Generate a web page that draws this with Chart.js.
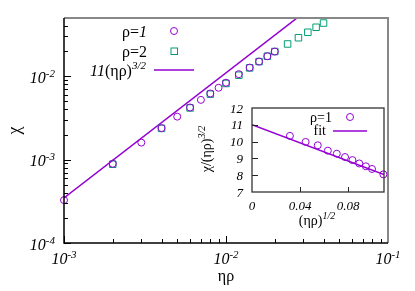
<!DOCTYPE html>
<html>
<head>
<meta charset="utf-8">
<script src="https://cdn.jsdelivr.net/npm/chart.js@4.4.1/dist/chart.umd.min.js"></script>
<style>
html, body { margin: 0; padding: 0; background: #fff; }
#wrap { position: relative; width: 415px; height: 291px; }
#main { position: absolute; left: 0; top: 0; }
#inset { position: absolute; left: 195px; top: 98px; }
</style>
</head>
<body>
<div id="wrap">
  <canvas id="main" width="415" height="291"></canvas>
  <canvas id="inset" width="200" height="135"></canvas>
</div>
<script>
// dados do gráfico principal (log-log)
const rho1X = [0.001, 0.002, 0.003, 0.004, 0.005, 0.006, 0.007, 0.008, 0.009, 0.010, 0.012, 0.014, 0.016, 0.018, 0.020];
const rho1Chi = [3.27e-4, 8.93e-4, 1.60e-3, 2.39e-3, 3.28e-3, 4.22e-3, 5.21e-3, 6.22e-3, 7.28e-3, 8.37e-3, 1.06e-2, 1.27e-2, 1.50e-2, 1.74e-2, 1.98e-2];
const rho2X = [0.002, 0.004, 0.006, 0.008, 0.010, 0.012, 0.014, 0.016, 0.018, 0.020, 0.024, 0.028, 0.032, 0.036, 0.040];
const rho2Chi = [8.8e-4, 2.37e-3, 4.17e-3, 6.1e-3, 8.2e-3, 1.03e-2, 1.26e-2, 1.50e-2, 1.74e-2, 1.98e-2, 2.44e-2, 2.90e-2, 3.37e-2, 3.87e-2, 4.35e-2];
const powerLawX = [0.001, 0.1];   // 11 (ηρ)^{3/2}

// ticks
const xMajor = [0.001, 0.01, 0.1];
const xExp = ['-3', '-2', '-1'];
const yMajor = [1e-4, 1e-3, 1e-2];
const yExp = ['-4', '-3', '-2'];

// dados do inset
const insetX = [0.0316, 0.0447, 0.0548, 0.0632, 0.0707, 0.0775, 0.0837, 0.0894, 0.0949, 0.1000, 0.1095];
const insetY = [10.34, 9.98, 9.78, 9.46, 9.28, 9.08, 8.90, 8.70, 8.53, 8.37, 8.05];
const fitX = [0, 0.11];
const fitA = 11.0, fitB = -26.9;
const insetXTicks = [0, 0.04, 0.08];
const insetXLabels = ['0', '0.04', '0.08'];
const insetYTicks = [7, 8, 9, 10, 11, 12];

const purple = '#9400d3';
const teal = '#009e73';
const serif = '"Liberation Serif", "DejaVu Serif", serif';

function isPow10(v) {
    const l = Math.log10(v);
    return Math.abs(l - Math.round(l)) < 1e-9;
}

function logTicks(min, max) {
    const out = [];
    for (let e = Math.floor(Math.log10(min)); e <= Math.ceil(Math.log10(max)); e++) {
        for (let m = 1; m <= 9; m++) {
            const v = m * Math.pow(10, e);
            if (v >= min * 0.9999 && v <= max * 1.0001) out.push(v);
        }
    }
    return out;
}

// desenha texto com pedaços de fontes diferentes (sobrescrito etc.)
function drawRuns(ctx, runs, x, y, align) {
    let total = 0;
    runs.forEach(r => { ctx.font = r.f; r.w = ctx.measureText(r.t).width; total += r.w; });
    let cx = align === 'right' ? x - total : align === 'center' ? x - total / 2 : x;
    ctx.textAlign = 'left';
    ctx.textBaseline = 'alphabetic';
    runs.forEach(r => { ctx.font = r.f; ctx.fillText(r.t, cx, y + (r.dy || 0)); cx += r.w; });
}

function powLabel(ctx, x, y, exp, align, size) {
    drawRuns(ctx, [
        { t: '10', f: `italic ${size}px ${serif}` },
        { t: exp, f: `italic ${Math.round(size * 0.68)}px ${serif}`, dy: -Math.round(size * 0.4) }
    ], x, y, align);
}

const mainDecor = {
    id: 'mainDecor',
    afterDraw(chart) {
        const { ctx, chartArea: a, scales: { x, y } } = chart;
        ctx.save();
        ctx.strokeStyle = '#000';
        ctx.lineWidth = 1;
        ctx.beginPath();
        x.ticks.forEach(t => {
            const p = Math.round(x.getPixelForValue(t.value)) + 0.5;
            const len = isPow10(t.value) ? 7 : 4;
            ctx.moveTo(p, a.bottom);
            ctx.lineTo(p, a.bottom - len);
        });
        y.ticks.forEach(t => {
            const p = Math.round(y.getPixelForValue(t.value)) + 0.5;
            const len = isPow10(t.value) ? 7 : 4;
            ctx.moveTo(a.left, p);
            ctx.lineTo(a.left + len, p);
        });
        ctx.stroke();

        // bordas
        ctx.strokeStyle = '#888';
        ctx.lineWidth = 2;
        ctx.beginPath();
        ctx.moveTo(a.left, a.top);
        ctx.lineTo(a.right, a.top);
        ctx.lineTo(a.right, a.bottom);
        ctx.stroke();
        ctx.strokeStyle = '#000';
        ctx.lineWidth = 1.5;
        ctx.beginPath();
        ctx.moveTo(a.left, a.top);
        ctx.lineTo(a.left, a.bottom);
        ctx.lineTo(a.right, a.bottom);
        ctx.stroke();

        ctx.fillStyle = '#000';
        xMajor.forEach((v, i) => powLabel(ctx, x.getPixelForValue(v), a.bottom + 21, xExp[i], 'center', 16));
        yMajor.forEach((v, i) => powLabel(ctx, a.left - 9, y.getPixelForValue(v) + 6.5, yExp[i], 'right', 16));

        // legenda
        const up = `16px ${serif}`, it = `italic 16px ${serif}`;
        drawRuns(ctx, [{ t: 'ρ=', f: up }, { t: '1', f: it }], 147, 37, 'right');
        drawRuns(ctx, [{ t: 'ρ=2', f: up }], 147, 56.5, 'right');
        drawRuns(ctx, [{ t: '11', f: it }, { t: '(ηρ)', f: up }, { t: '3/2', f: `italic 11px ${serif}`, dy: -7 }], 146, 75.5, 'right');
        ctx.lineWidth = 1;
        ctx.strokeStyle = purple;
        ctx.beginPath();
        ctx.arc(174, 31, 3.5, 0, Math.PI * 2);
        ctx.stroke();
        ctx.strokeStyle = teal;
        ctx.strokeRect(171, 48, 6.5, 6.5);
        ctx.strokeStyle = purple;
        ctx.lineWidth = 1.5;
        ctx.beginPath();
        ctx.moveTo(154, 70);
        ctx.lineTo(194, 70);
        ctx.stroke();
        ctx.restore();
    }
};

const insetDecor = {
    id: 'insetDecor',
    afterDraw(chart) {
        const { ctx, chartArea: a, scales: { x, y } } = chart;
        ctx.save();
        ctx.strokeStyle = '#222';
        ctx.lineWidth = 1;
        ctx.beginPath();
        insetYTicks.forEach(v => {
            if (v === 7 || v === 12) return;
            const p = Math.round(y.getPixelForValue(v)) + 0.5;
            ctx.moveTo(a.left, p);
            ctx.lineTo(a.left + 6, p);
        });
        insetXTicks.forEach(v => {
            if (v === 0) return;
            const p = Math.round(x.getPixelForValue(v)) + 0.5;
            ctx.moveTo(p, a.bottom);
            ctx.lineTo(p, a.bottom - 5);
        });
        ctx.stroke();
        ctx.strokeStyle = '#333';
        ctx.lineWidth = 1.3;
        ctx.strokeRect(a.left, a.top, a.right - a.left, a.bottom - a.top);

        ctx.fillStyle = '#000';
        const it = `italic 13px ${serif}`;
        insetYTicks.forEach(v => drawRuns(ctx, [{ t: String(v), f: it }], a.left - 9, y.getPixelForValue(v) + 4.5, 'right'));
        insetXTicks.forEach((v, i) => drawRuns(ctx, [{ t: insetXLabels[i], f: it }], x.getPixelForValue(v), a.bottom + 17.5, 'center'));

        const up = `14px ${serif}`;
        drawRuns(ctx, [{ t: '(ηρ)', f: up }, { t: '1/2', f: `italic 10px ${serif}`, dy: -6 }], 122, 127, 'center');
        ctx.save();
        ctx.translate(16, 51);
        ctx.rotate(-Math.PI / 2);
        drawRuns(ctx, [{ t: 'χ/(ηρ)', f: up }, { t: '3/2', f: `italic 10px ${serif}`, dy: -6 }], 0, 0, 'center');
        ctx.restore();

        // legenda do inset
        drawRuns(ctx, [{ t: 'ρ=1', f: up }], 137, 23.5, 'right');
        drawRuns(ctx, [{ t: 'fit', f: up }], 131, 37, 'right');
        ctx.strokeStyle = purple;
        ctx.lineWidth = 1;
        ctx.beginPath();
        ctx.arc(155, 19, 3.5, 0, Math.PI * 2);
        ctx.stroke();
        ctx.lineWidth = 1.5;
        ctx.beginPath();
        ctx.moveTo(138, 33);
        ctx.lineTo(172, 33);
        ctx.stroke();
        ctx.restore();
    }
};

new Chart(document.getElementById('main'), {
    type: 'scatter',
    data: {
        datasets: [
            {
                label: 'ρ=1',
                data: rho1X.map((v, i) => ({ x: v, y: rho1Chi[i] })),
                pointStyle: 'circle',
                pointRadius: 3.5,
                borderColor: purple,
                backgroundColor: 'rgba(0,0,0,0)',
                borderWidth: 1,
                clip: false
            },
            {
                label: 'ρ=2',
                data: rho2X.map((v, i) => ({ x: v, y: rho2Chi[i] })),
                pointStyle: 'rect',
                pointRadius: 4.6,
                borderColor: teal,
                backgroundColor: 'rgba(0,0,0,0)',
                borderWidth: 1,
                clip: false
            },
            {
                label: '11(ηρ)^{3/2}',
                type: 'line',
                data: powerLawX.map(v => ({ x: v, y: 11 * Math.pow(v, 1.5) })),
                borderColor: purple,
                borderWidth: 1.5,
                pointRadius: 0,
                fill: false
            }
        ]
    },
    options: {
        responsive: false,
        animation: false,
        layout: { padding: { top: 18, right: 27, left: 0, bottom: 0 } },
        plugins: { legend: { display: false }, tooltip: { enabled: false } },
        scales: {
            x: {
                type: 'logarithmic',
                min: 0.001,
                max: 0.1,
                grid: { display: false },
                border: { display: false },
                ticks: { display: false },
                afterBuildTicks: s => { s.ticks = logTicks(0.001, 0.1).map(v => ({ value: v })); },
                afterFit: s => { s.height = 48; },
                title: { display: true, text: 'ηρ', color: '#000', font: { family: serif, size: 16 }, padding: { top: 0, bottom: 5 } }
            },
            y: {
                type: 'logarithmic',
                min: 1e-4,
                max: 0.05,
                grid: { display: false },
                border: { display: false },
                ticks: { display: false },
                afterBuildTicks: s => { s.ticks = logTicks(1e-4, 0.05).map(v => ({ value: v })); },
                afterFit: s => { s.width = 64; },
                title: { display: true, text: 'χ', color: '#000', font: { family: serif, size: 18 }, padding: { top: 4, bottom: 0 } }
            }
        }
    },
    plugins: [mainDecor]
});

new Chart(document.getElementById('inset'), {
    type: 'scatter',
    data: {
        datasets: [
            {
                label: 'ρ=1',
                data: insetX.map((v, i) => ({ x: v, y: insetY[i] })),
                pointStyle: 'circle',
                pointRadius: 3.5,
                borderColor: purple,
                backgroundColor: 'rgba(0,0,0,0)',
                borderWidth: 1,
                clip: false
            },
            {
                label: 'fit',
                type: 'line',
                data: fitX.map(v => ({ x: v, y: fitA + fitB * v })),
                borderColor: purple,
                borderWidth: 1.5,
                pointRadius: 0,
                fill: false
            }
        ]
    },
    options: {
        responsive: false,
        animation: false,
        layout: { padding: { top: 10, right: 11, left: 0, bottom: 0 } },
        plugins: { legend: { display: false }, tooltip: { enabled: false } },
        scales: {
            x: {
                type: 'linear',
                min: 0,
                max: 0.11,
                grid: { display: false },
                border: { display: false },
                ticks: { display: false },
                afterBuildTicks: s => { s.ticks = insetXTicks.map(v => ({ value: v })); },
                afterFit: s => { s.height = 41; }
            },
            y: {
                type: 'linear',
                min: 7,
                max: 12,
                grid: { display: false },
                border: { display: false },
                ticks: { display: false },
                afterBuildTicks: s => { s.ticks = insetYTicks.map(v => ({ value: v })); },
                afterFit: s => { s.width = 57; }
            }
        }
    },
    plugins: [insetDecor]
});
</script>
</body>
</html>
